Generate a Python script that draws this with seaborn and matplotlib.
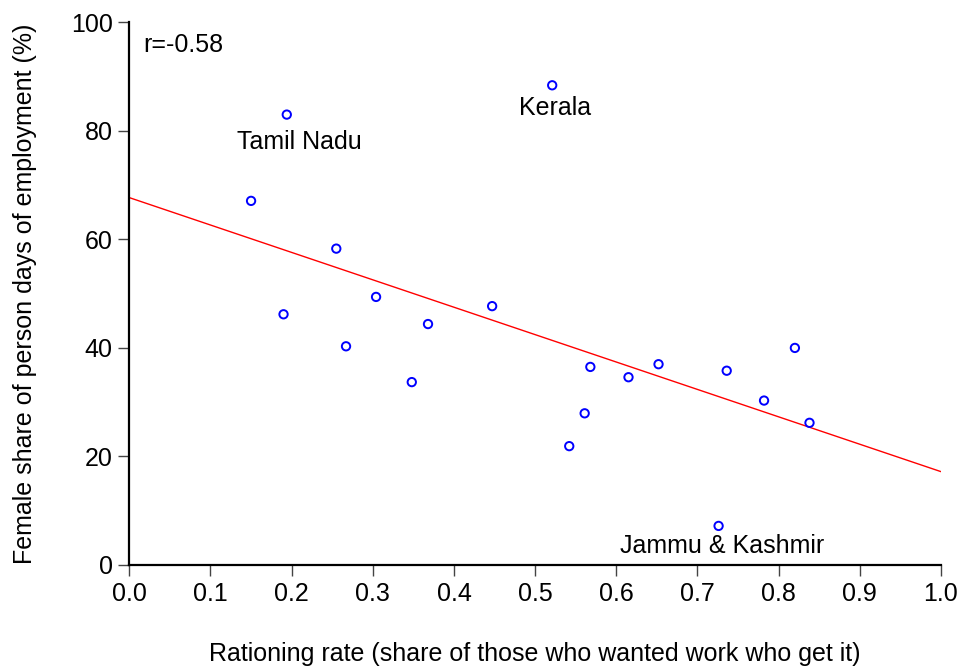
import numpy as np
import pandas as pd
import matplotlib
matplotlib.use("Agg")
import matplotlib.pyplot as plt
import seaborn as sns

# Data
rationing_rate = [0.194, 0.521, 0.150, 0.255, 0.190, 0.304, 0.267, 0.368, 0.348,
                  0.447, 0.568, 0.542, 0.561, 0.615, 0.652, 0.736, 0.782, 0.820,
                  0.838, 0.726]
female_share = [83.0, 88.4, 67.1, 58.3, 46.2, 49.4, 40.3, 44.4, 33.7,
                47.7, 36.5, 21.9, 27.95, 34.6, 37.0, 35.8, 30.3, 40.0,
                26.2, 7.2]
# fitted line as drawn (value at x=0 and x=1)
fit_x = [0.0, 1.0]
fit_y = [67.7, 17.2]

labels = ["r=-0.58", "Tamil Nadu", "Kerala", "Jammu & Kashmir"]
label_x = [0.017, 0.209, 0.524, 0.730]
label_y = [95.8, 78.0, 84.2, 3.5]

x_ticks = [0.0, 0.1, 0.2, 0.3, 0.4, 0.5, 0.6, 0.7, 0.8, 0.9, 1.0]
y_ticks = [0, 20, 40, 60, 80, 100]

sns.set_theme(style="ticks")
plt.rcParams["font.family"] = ["Liberation Sans", "DejaVu Sans"]
plt.rcParams["text.color"] = "black"
plt.rcParams["axes.labelcolor"] = "black"

df = pd.DataFrame({"x": rationing_rate, "y": female_share})
line_df = pd.DataFrame({"x": fit_x, "y": fit_y})

fig = plt.figure(figsize=(9.6, 6.71), dpi=100)
ax = fig.add_axes([0.1347, 0.158, 0.8455, 0.8087])

sns.lineplot(data=line_df, x="x", y="y", color="red", linewidth=1.0, ax=ax)
sns.scatterplot(data=df, x="x", y="y", ax=ax, marker="o", s=36,
                facecolors="none", edgecolor="blue", linewidth=1.4, zorder=3)

for t, lx, ly in zip(labels, label_x, label_y):
    ha = "left" if t.startswith("r=") else "center"
    ax.text(lx, ly, t, ha=ha, va="center", fontsize=18, color="black")

ax.set_xlim(0, 1.0)
ax.set_ylim(0, 100)
ax.set_xticks(x_ticks)
ax.set_xticklabels([f"{v:.1f}" for v in x_ticks])
ax.set_yticks(y_ticks)
ax.set_yticklabels([str(v) for v in y_ticks])
ax.tick_params(axis="both", labelsize=18, length=8, width=1.0, color="#444444",
               direction="out", pad=4, labelcolor="black")
for s in ["top", "right"]:
    ax.spines[s].set_visible(False)
for s in ["left", "bottom"]:
    ax.spines[s].set_color("black")
    ax.spines[s].set_linewidth(1.6)

ax.set_xlabel("Rationing rate (share of those who wanted work who get it)",
              fontsize=18, labelpad=26, color="black")
ax.set_ylabel("Female share of person days of employment (%)", fontsize=18,
              labelpad=24, color="black")

fig.savefig("out.png", dpi=100)
